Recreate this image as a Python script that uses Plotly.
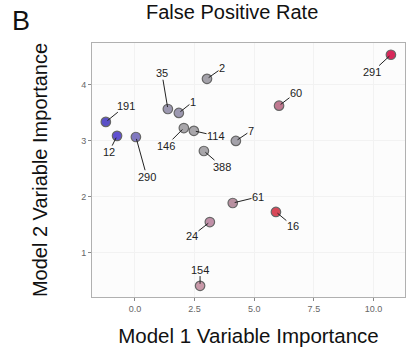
import plotly.graph_objects as go

ids = ["291", "60", "7", "2", "35", "1", "191", "12", "290", "146", "114", "388", "61", "16", "24", "154"]
model1 = [10.73, 6.04, 4.23, 3.02, 1.38, 1.84, -1.22, -0.75, 0.04, 2.05, 2.47, 2.89, 4.10, 5.91, 3.14, 2.73]
model2 = [4.54, 3.63, 3.00, 4.11, 3.57, 3.50, 3.34, 3.09, 3.07, 3.23, 3.18, 2.82, 1.89, 1.73, 1.55, 0.41]
label_x = [9.94, 6.75, 4.86, 3.65, 1.13, 2.43, -0.38, -1.09, 0.50, 1.30, 3.40, 3.65, 5.16, 6.62, 2.39, 2.73]
label_y = [4.23, 3.86, 3.18, 4.30, 4.21, 3.70, 3.63, 2.80, 2.36, 2.91, 3.09, 2.54, 2.00, 1.48, 1.30, 0.70]
colors = ["#d8285a", "#c07890", "#a4a2aa", "#a4a2aa", "#9c98b0", "#9c98b0", "#5a50c8", "#6050d0",
          "#8078c0", "#a8a6aa", "#a8a6aa", "#a8a6aa", "#b890a0", "#d84858", "#c090a8", "#c898a8"]

x_ticks = [0.0, 2.5, 5.0, 7.5, 10.0]
y_ticks = [1, 2, 3, 4]

fig = go.Figure()
fig.add_trace(go.Scatter(
    x=model1, y=model2, mode="markers",
    marker=dict(size=9.5, color=colors, line=dict(color="#666666", width=1.2)),
    hoverinfo="skip", showlegend=False,
))

for i, lab in enumerate(ids):
    fig.add_annotation(
        x=model1[i], y=model2[i], ax=label_x[i], ay=label_y[i],
        xref="x", yref="y", axref="x", ayref="y",
        text=lab, showarrow=True, arrowhead=0, arrowwidth=1, arrowcolor="#222222",
        standoff=2, startstandoff=0,
        font=dict(family="Liberation Sans, Arial", size=11, color="#222222"),
        borderpad=0,
    )

fig.add_annotation(text="False Positive Rate", xref="paper", yref="paper", x=0.447, y=1.175,
                   xanchor="center", yanchor="top", showarrow=False,
                   font=dict(family="Liberation Sans, Arial", size=20, color="#111111"))
fig.add_annotation(text="B", xref="paper", yref="paper", x=-0.228, y=1.085,
                   xanchor="center", yanchor="middle", showarrow=False,
                   font=dict(family="Liberation Sans, Arial", size=27, color="#111111"))

fig.update_layout(
    width=406, height=348,
    margin=dict(l=92, r=1, t=43, b=51),
    paper_bgcolor="white", plot_bgcolor="#fcfcfc",
    font=dict(family="Liberation Sans, Arial"),
)
fig.update_xaxes(
    range=[-1.80, 11.32], tickvals=x_ticks, ticktext=["0.0", "2.5", "5.0", "7.5", "10.0"],
    showgrid=True, gridcolor="#f2f2f2", zeroline=False,
    showline=True, linecolor="#b0b0b0", linewidth=1, mirror=True,
    ticks="outside", ticklen=3, tickcolor="#888888",
    tickfont=dict(size=9, color="#666666"),
    title=dict(text="Model 1 Variable Importance", font=dict(size=20.5, color="#111111"), standoff=15),
)
fig.update_yaxes(
    range=[0.21, 4.75], tickvals=y_ticks,
    showgrid=True, gridcolor="#f2f2f2", zeroline=False,
    showline=True, linecolor="#b0b0b0", linewidth=1, mirror=True,
    ticks="outside", ticklen=3, tickcolor="#888888",
    tickfont=dict(size=9, color="#666666"),
    title=dict(text="Model 2 Variable Importance", font=dict(size=20, color="#111111"), standoff=28),
)

fig.write_html("out.html")
